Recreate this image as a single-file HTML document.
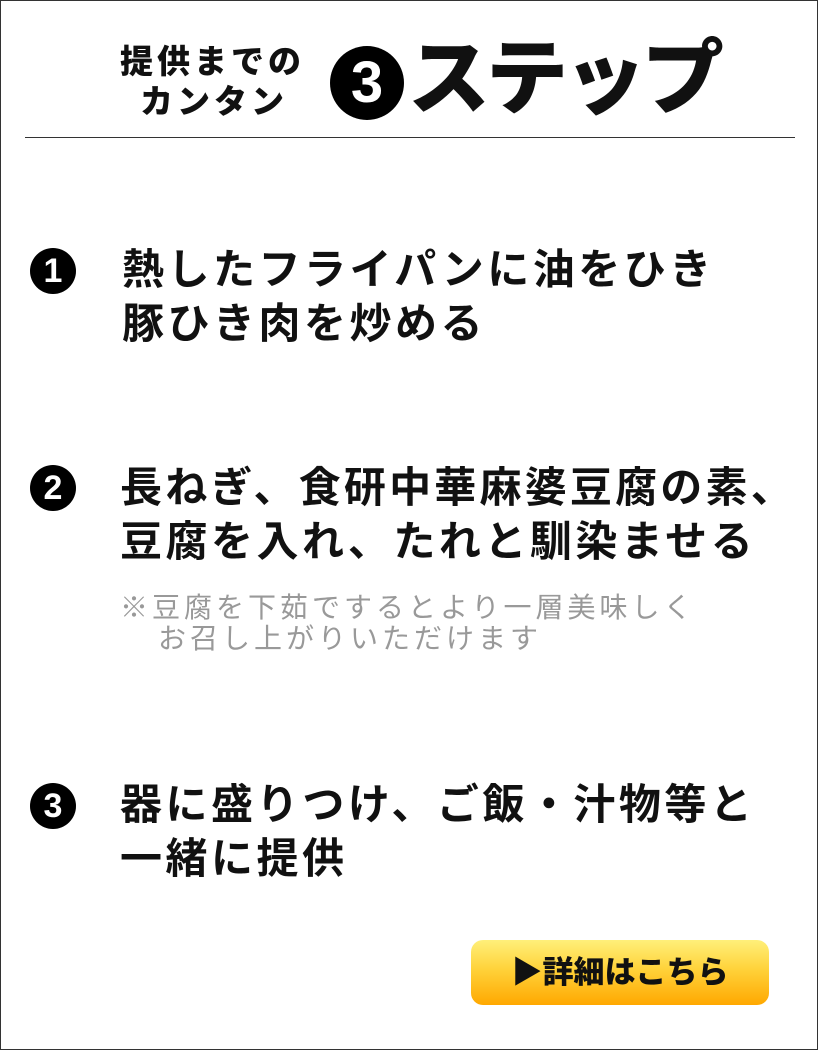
<!DOCTYPE html>
<html><head><meta charset="utf-8"><style>
*{margin:0;padding:0;box-sizing:border-box}
body{width:818px;height:1050px;background:#fff;position:relative;overflow:hidden;font-family:"Liberation Sans","Noto Sans CJK JP",sans-serif;font-weight:bold;color:#111}
.frame{position:absolute;left:0;top:0;width:818px;height:1050px;border:1px solid #333}
.a{position:absolute;white-space:nowrap}
.c{position:absolute;background:#000;color:#fff;border-radius:50%;text-align:center;font-weight:900}
.t{font-size:42px;line-height:54px;letter-spacing:3.5px}
.n{font-size:28px;line-height:31px;color:#999;font-weight:normal;letter-spacing:4px}
</style></head><body>
<div class="frame"></div>
<div class="a" style="left:120px;top:42px;font-size:33px;line-height:40px;font-weight:900;letter-spacing:4px">提供までの<br><span style="margin-left:20px">カンタン</span></div>
<div class="c" style="left:330px;top:46px;width:74px;height:74px;font-size:58px;line-height:74px">3</div>
<div class="a" style="left:408px;top:30px;font-size:82px;line-height:100px;font-weight:900;letter-spacing:-4px">ステップ</div>
<div class="a" style="left:25px;top:137px;width:770px;height:1px;background:#333"></div>

<div class="c" style="left:30px;top:248px;width:46px;height:46px;font-size:34px;line-height:46px">1</div>
<div class="a t" style="left:122px;top:243px">熱したフライパンに油をひき<br>豚ひき肉を炒める</div>

<div class="c" style="left:30px;top:465px;width:46px;height:46px;font-size:34px;line-height:46px">2</div>
<div class="a t" style="left:120px;top:461px"><span style="letter-spacing:3.2px">長ねぎ、食研中華麻婆豆腐の素、</span><br>豆腐を入れ、たれと馴染ませる</div>
<div class="a n" style="left:120px;top:592px">※豆腐を下茹でするとより一層美味しく<br><span style="margin-left:38px">お召し上がりいただけます</span></div>

<div class="c" style="left:30px;top:783px;width:46px;height:46px;font-size:34px;line-height:46px">3</div>
<div class="a t" style="left:120px;top:778px">器に盛りつけ、ご飯・汁物等と<br>一緒に提供</div>

<div class="a" style="left:471px;top:940px;width:298px;height:65px;border-radius:12px;background:linear-gradient(#fff07a,#ffd23a 45%,#ffa800);text-align:center;font-size:31px;line-height:65px;font-weight:900">▶詳細はこちら</div>
</body></html>
